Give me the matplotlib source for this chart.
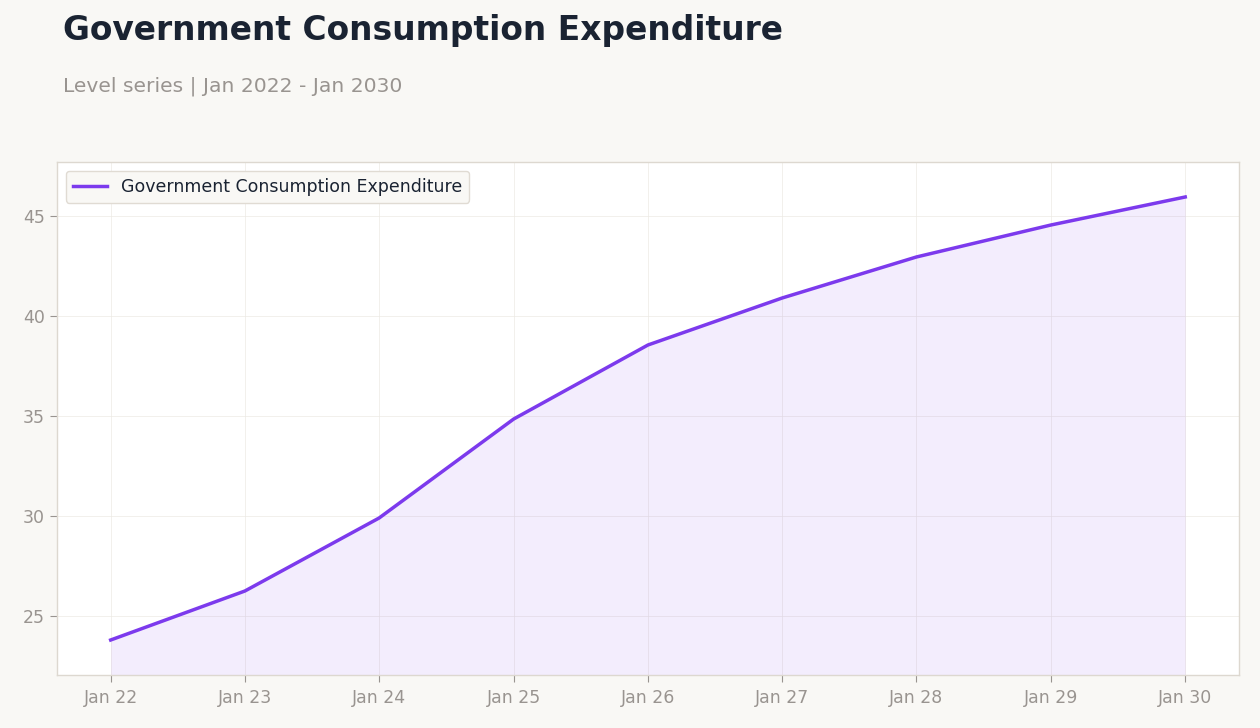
import matplotlib
matplotlib.use("Agg")
import matplotlib.pyplot as plt
import matplotlib.dates as mdates
import numpy as np
import datetime as dt

dates = [dt.date(y, 1, 1) for y in range(2022, 2031)]
values = [23.8, 26.25, 29.9, 34.85, 38.55, 40.9, 42.95, 44.55, 45.95]
series_name = "Government Consumption Expenditure"
title = "Government Consumption Expenditure"
subtitle = "Level series | Jan 2022 - Jan 2030"

bg = "#f9f8f5"
line_c = "#7c3aed"
grid_c = "#ece9e4"
tick_c = "#999490"

fig = plt.figure(figsize=(12.6, 7.28), dpi=100, facecolor=bg)
ax = fig.add_axes([0.0452, 0.0728, 0.9381, 0.7047])
ax.set_facecolor("white")

ymin, ymax = 22.05, 47.7
ax.fill_between(dates, values, ymin, color=line_c, alpha=0.09, linewidth=0)
ax.plot(dates, values, color=line_c, linewidth=2.5, label=series_name)
ax.set_ylim(ymin, ymax)
x0 = mdates.date2num(dates[0]); x1 = mdates.date2num(dates[-1])
ax.set_xlim(x0 - 0.05 * (x1 - x0), x1 + 0.05 * (x1 - x0))
ax.set_xticks(dates)
ax.xaxis.set_major_formatter(mdates.DateFormatter("%b %y"))
ax.set_yticks([25, 30, 35, 40, 45])

ax.grid(True, color=grid_c, linewidth=0.6, alpha=0.8)
ax.set_axisbelow(True)
for s in ax.spines.values():
    s.set_color("#ddd8d0")
    s.set_linewidth(1.0)
ax.tick_params(colors=tick_c, labelsize=12.5, length=5, width=0.8)
ax.tick_params(axis="x", pad=5)
for lbl in ax.get_xticklabels() + ax.get_yticklabels():
    lbl.set_color(tick_c)

leg = ax.legend(loc="upper left", fontsize=12.5, frameon=True, facecolor=bg,
                edgecolor="#e0dbd3", framealpha=1.0, borderpad=0.4, handlelength=2.0)
for t in leg.get_texts():
    t.set_color("#1a2332")

fig.text(0.05, 0.958, title, fontsize=23.7, fontweight="bold", color="#1a2332", va="center", ha="left")
fig.text(0.05, 0.882, subtitle, fontsize=14.6, color=tick_c, va="center", ha="left")

fig.savefig("out.png", dpi=100, facecolor=bg)
